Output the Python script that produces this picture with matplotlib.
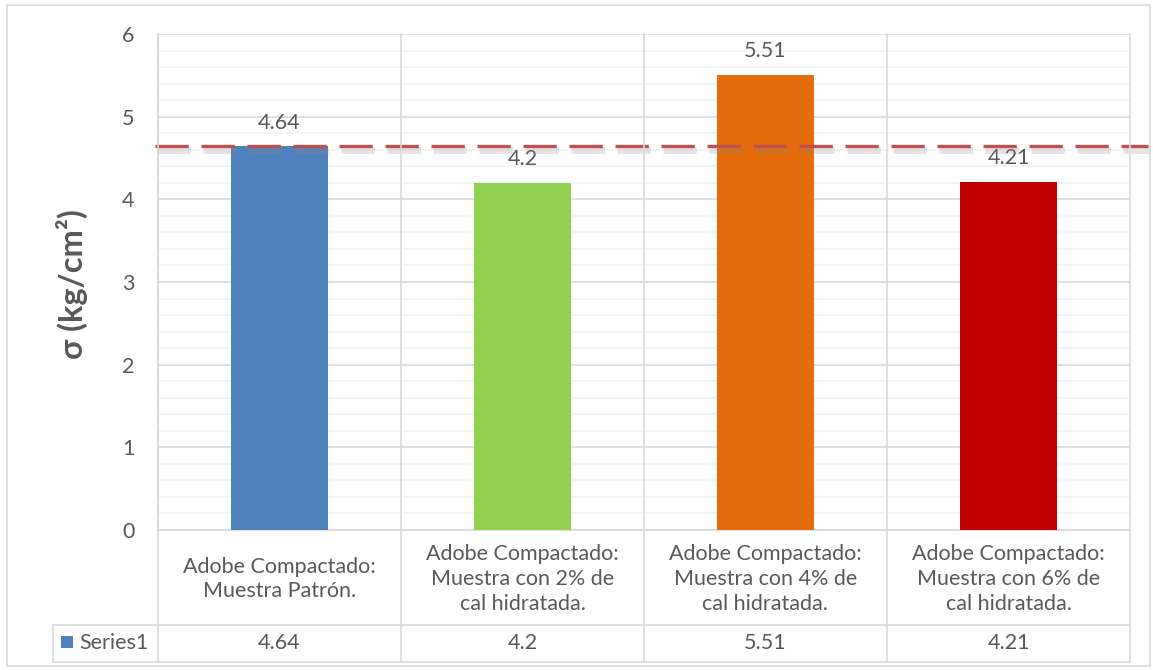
import matplotlib
matplotlib.use("Agg")
import matplotlib.pyplot as plt
import matplotlib.patheffects as pe
from matplotlib.transforms import blended_transform_factory
from matplotlib.patches import Rectangle
from matplotlib.lines import Line2D

# ---- data ----
categories = [
    "Adobe Compactado:\nMuestra Patrón.",
    "Adobe Compactado:\nMuestra con 2% de\ncal hidratada.",
    "Adobe Compactado:\nMuestra con 4% de\ncal hidratada.",
    "Adobe Compactado:\nMuestra con 6% de\ncal hidratada.",
]
values = [4.64, 4.2, 5.51, 4.21]
value_labels = ["4.64", "4.2", "5.51", "4.21"]
series_name = "Series1"
bar_colors = ["#4F81BD", "#92D050", "#E46C0A", "#C00000"]
reference_value = values[0]
y_ticks = [0, 1, 2, 3, 4, 5, 6]
y_label = "σ (kg/cm²)"

W, H = 1153, 670
plt.rcParams["font.family"] = ["Lato", "DejaVu Sans"]
text_color = "#595959"
grid_major = "#D9D9D9"
grid_minor = "#F2F2F2"
fs = 15.5

fig = plt.figure(figsize=(W / 100, H / 100), dpi=100)

def fx(px):
    return px / W

def fy(py):
    return 1 - py / H

left, right, top, bottom = 158, 1130, 34, 530
ax = fig.add_axes([fx(left), fy(bottom), fx(right) - fx(left), fy(top) - fy(bottom)])

n = len(categories)
xs = list(range(n))
ax.bar(xs, values, width=0.4, color=bar_colors, zorder=3)
ax.set_xlim(-0.5, n - 0.5)
ax.set_ylim(0, 6)

# horizontal gridlines
ax.set_yticks(y_ticks)
ax.set_yticks([t / 5 for t in range(31) if t % 5], minor=True)
ax.grid(axis="y", which="major", color=grid_major, linewidth=1.2, zorder=0)
ax.grid(axis="y", which="minor", color=grid_minor, linewidth=1.2, zorder=0)
ax.set_xticks([])
ax.tick_params(axis="y", which="both", length=0, pad=17, labelsize=fs, labelcolor=text_color)
for s in ["top", "right"]:
    ax.spines[s].set_visible(False)
for s in ["left", "bottom"]:
    ax.spines[s].set_color(grid_major)
    ax.spines[s].set_linewidth(1.2)

# data labels
for x, v, lab in zip(xs, values, value_labels):
    ax.annotate(lab, (x, v), xytext=(0, 17), textcoords="offset points",
                ha="center", va="center", fontsize=fs, color=text_color, zorder=5)

ax.set_ylabel(y_label, fontsize=23.5, fontweight="bold", color=text_color)
ax.yaxis.set_label_coords((fx(88) - fx(left)) / (fx(right) - fx(left)),
                          (fy(284) - fy(bottom)) / (fy(top) - fy(bottom)))

# reference dashed line with soft shadow
ref = Line2D([-0.512, n - 0.426], [reference_value, reference_value],
             color="#C0504D", linewidth=2.4, dashes=(10, 3.8), zorder=6, clip_on=False,
             path_effects=[pe.SimpleLineShadow(offset=(1.5, -2.5), shadow_color="#8A8A8A",
                                               alpha=0.22, linewidth=5), pe.Normal()])
ax.add_line(ref)

# ---- data table under the chart ----
bt = blended_transform_factory(ax.transData, fig.transFigure)
line_kw = dict(color=grid_major, linewidth=1.2, zorder=1)
row_sep, table_bottom, legend_left = 625, 662, 53
for b in [x - 0.5 for x in xs] + [n - 0.5]:
    fig.add_artist(Line2D([b, b], [fy(top), fy(table_bottom)], transform=bt, **line_kw))
fig.add_artist(Line2D([fx(legend_left), fx(right)], [fy(row_sep)] * 2, **line_kw))
fig.add_artist(Line2D([fx(legend_left), fx(right)], [fy(table_bottom)] * 2, **line_kw))
fig.add_artist(Line2D([fx(legend_left)] * 2, [fy(row_sep), fy(table_bottom)], **line_kw))

for x, cat, lab in zip(xs, categories, value_labels):
    fig.text(x, fy(579), cat, transform=bt, ha="center", va="center",
             fontsize=fs, color=text_color, linespacing=1.3)
    fig.text(x, fy(643), lab, transform=bt, ha="center", va="center",
             fontsize=fs, color=text_color)

fig.add_artist(Rectangle((fx(61), fy(648)), fx(12), fy(636) - fy(648),
                         facecolor=bar_colors[0], edgecolor="none"))
fig.text(fx(79), fy(643), series_name, ha="left", va="center", fontsize=fs, color=text_color)

# chart border
fig.add_artist(Rectangle((fx(7), fy(666)), fx(1150) - fx(7), fy(5) - fy(666),
                         facecolor="none", edgecolor=grid_major, linewidth=1.2))

fig.savefig("out.png", dpi=100)
